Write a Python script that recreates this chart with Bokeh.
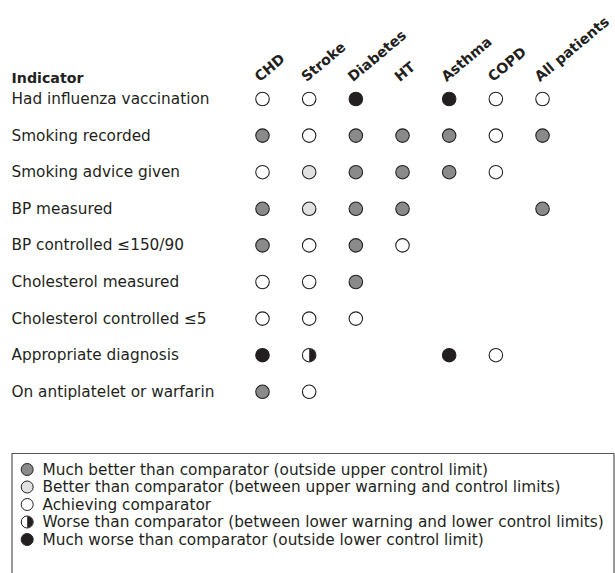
from bokeh.plotting import figure
from bokeh.models import ColumnDataSource, Range1d
from bokeh.core.properties import value
from bokeh.embed import file_html
from bokeh.resources import INLINE

# ---------------- data ----------------
groups = ["CHD", "Stroke", "Diabetes", "HT", "Asthma", "COPD", "All patients"]
indicators = [
    "Had influenza vaccination",
    "Smoking recorded",
    "Smoking advice given",
    "BP measured",
    "BP controlled \u2264150/90",
    "Cholesterol measured",
    "Cholesterol controlled \u22645",
    "Appropriate diagnosis",
    "On antiplatelet or warfarin",
]
# MB = much better, B = better, A = achieving, W = worse, MW = much worse, None = no result
status = [
    ["A", "A", "MW", None, "MW", "A", "A"],
    ["MB", "A", "MB", "MB", "MB", "A", "MB"],
    ["A", "B", "MB", "MB", "MB", "A", None],
    ["MB", "B", "MB", "MB", None, None, "MB"],
    ["MB", "A", "MB", "A", None, None, None],
    ["A", "A", "MB", None, None, None, None],
    ["A", "A", "A", None, None, None, None],
    ["MW", "W", None, None, "MW", "A", None],
    ["MB", "A", None, None, None, None, None],
]
legend_keys = ["MB", "B", "A", "W", "MW"]
legend_labels = [
    "Much better than comparator (outside upper control limit)",
    "Better than comparator (between upper warning and control limits)",
    "Achieving comparator",
    "Worse than comparator (between lower warning and lower control limits)",
    "Much worse than comparator (outside lower control limit)",
]

# ---------------- style ----------------
INK = "#231f20"
FILL = {"MB": "#8a8a8a", "B": "#e1e1e1", "A": "#ffffff", "W": "#ffffff", "MW": INK}
FONT = value("DejaVu Sans")

W, H = 615, 573
DX, DY = 46.67, 36.6          # px per column / per row
X0, Y0 = 262.0, 98.5          # px of first column / first row

def ux(px):  # px -> column units
    return (px - X0) / DX

def uy(px):  # px -> row units
    return (px - Y0) / DY

p = figure(width=W, height=H, output_backend="svg", toolbar_location=None,
           x_range=Range1d(ux(0), ux(W)), y_range=Range1d(uy(H), uy(0)),
           min_border=0, outline_line_color=None)
p.axis.visible = False
p.grid.visible = False
p.background_fill_color = "white"

# grid of markers
xs, ys, fills, half_x, half_y = [], [], [], [], []
for r, row in enumerate(status):
    for c, s in enumerate(row):
        if s is None:
            continue
        xs.append(c)
        ys.append(r)
        fills.append(FILL[s])
        if s == "W":
            half_x.append(c)
            half_y.append(r)

src = ColumnDataSource(dict(x=xs, y=ys, fill=fills))
p.scatter("x", "y", source=src, marker="circle", size=13.5, fill_color="fill",
          line_color=INK, line_width=1.1)
p.wedge(half_x, half_y, radius=6.5, radius_units="screen", start_angle=-90,
        end_angle=90, start_angle_units="deg", end_angle_units="deg",
        direction="anticlock", fill_color=INK, line_color=None)

# row labels
label_x = ux(11)
p.text([label_x] * len(indicators), list(range(len(indicators))), text=indicators,
       text_font=FONT, text_font_size="15.3px", text_color=INK,
       text_baseline="alphabetic", text_align="left")
p.text([label_x], [uy(77)], text=["Indicator"], text_font=FONT,
       text_font_size="14.2px", text_font_style="bold", text_color=INK,
       text_baseline="alphabetic", text_align="left")

# rotated column headers
p.text([i - 6 / DX for i in range(len(groups))], [uy(78)] * len(groups), text=groups,
       angle=40, angle_units="deg", text_font=FONT, text_font_size="14.2px",
       text_font_style="bold", text_color=INK, text_baseline="alphabetic",
       text_align="left")

# legend box (bottom edge cut off by the page)
bx0, bx1, by0, by1 = ux(11.5), ux(613.5), uy(453), uy(H + 5)
p.line([bx0, bx0, bx1, bx1], [by1, by0, by0, by1], line_color="#555555", line_width=1.2)

ly = [uy(469) + k * 17.5 / DY for k in range(len(legend_keys))]
lx = [ux(26.7)] * len(legend_keys)
p.scatter(lx, ly, marker="circle", size=12, fill_color=[FILL[k] for k in legend_keys],
          line_color=INK, line_width=1.0)
wx = [lx[k] for k, key in enumerate(legend_keys) if key == "W"]
wy = [ly[k] for k, key in enumerate(legend_keys) if key == "W"]
p.wedge(wx, wy, radius=5.8, radius_units="screen", start_angle=-90, end_angle=90,
        start_angle_units="deg", end_angle_units="deg", direction="anticlock",
        fill_color=INK, line_color=None)
p.text([ux(42)] * len(legend_labels), ly, text=legend_labels, text_font=FONT,
       text_font_size="15.3px", text_color=INK, text_baseline="middle",
       text_align="left")

open("out.html", "w").write(file_html(p, INLINE))
